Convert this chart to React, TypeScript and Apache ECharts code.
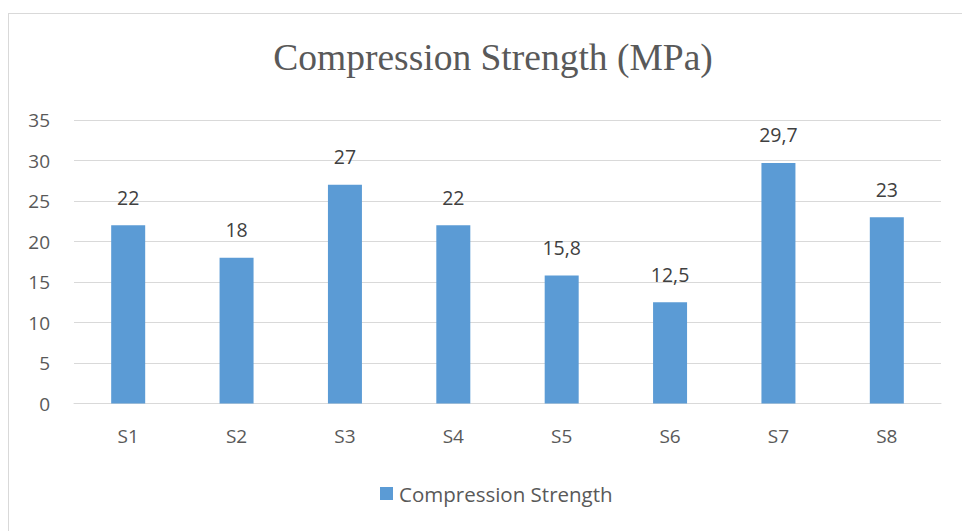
import React, { useEffect, useRef } from "react";
import * as echarts from "echarts";

const categories = ["S1", "S2", "S3", "S4", "S5", "S6", "S7", "S8"];
const strengthValues = [22, 18, 27, 22, 15.8, 12.5, 29.7, 23];
const seriesName = "Compression Strength";
const titleText = "Compression Strength (MPa)";

export default function App() {
  const ref = useRef<HTMLDivElement>(null);
  useEffect(() => {
    if (!ref.current) return;
    const chart = echarts.init(ref.current, undefined, { renderer: "svg" });
    const sans = "'Open Sans', sans-serif";
    chart.setOption({
      animation: false,
      backgroundColor: "transparent",
      title: {
        text: titleText,
        left: 493,
        textAlign: "center",
        top: 38,
        padding: 0,
        textStyle: {
          fontFamily: "'Liberation Serif', 'Times New Roman', serif",
          fontWeight: "normal",
          fontSize: 37.5,
          color: "#595959",
        },
      },
      legend: {
        data: [seriesName],
        left: 380,
        top: 483,
        padding: 0,
        icon: "rect",
        itemWidth: 13,
        itemHeight: 13,
        textStyle: { fontFamily: sans, fontSize: 20.5, color: "#595959", padding: [0, 0, 0, 1] },
      },
      grid: { left: 74, right: 21, top: 120, bottom: 127.5, containLabel: false },
      xAxis: {
        type: "category",
        data: categories,
        axisLine: { lineStyle: { color: "#d9d9d9", width: 1 } },
        axisTick: { show: false },
        axisLabel: { fontFamily: sans, fontSize: 19, color: "#595959", margin: 23 },
      },
      yAxis: {
        type: "value",
        min: 0,
        max: 35,
        interval: 5,
        axisLine: { show: false },
        axisTick: { show: false },
        splitLine: { lineStyle: { color: "#d9d9d9", width: 1 } },
        axisLabel: { fontFamily: sans, fontSize: 19, color: "#595959", margin: 24 },
      },
      series: [
        {
          name: seriesName,
          type: "bar",
          data: strengthValues,
          barWidth: 34,
          itemStyle: { color: "#5b9bd5" },
          label: {
            show: true,
            position: "top",
            distance: 18,
            fontFamily: sans,
            fontSize: 19.5,
            color: "#404040",
            formatter: (p: any) => String(p.value).replace(".", ","),
          },
        },
      ],
    });
    return () => chart.dispose();
  }, []);
  return (
    <>
      <div
        style={{
          position: "absolute",
          left: 8,
          top: 13,
          width: 954,
          height: 518,
          borderLeft: "1px solid #d9d9d9",
          borderTop: "1px solid #d9d9d9",
          boxSizing: "border-box",
        }}
      />
      <div ref={ref} style={{ position: "absolute", left: 0, top: 0, width: 962, height: 531 }} />
    </>
  );
}
